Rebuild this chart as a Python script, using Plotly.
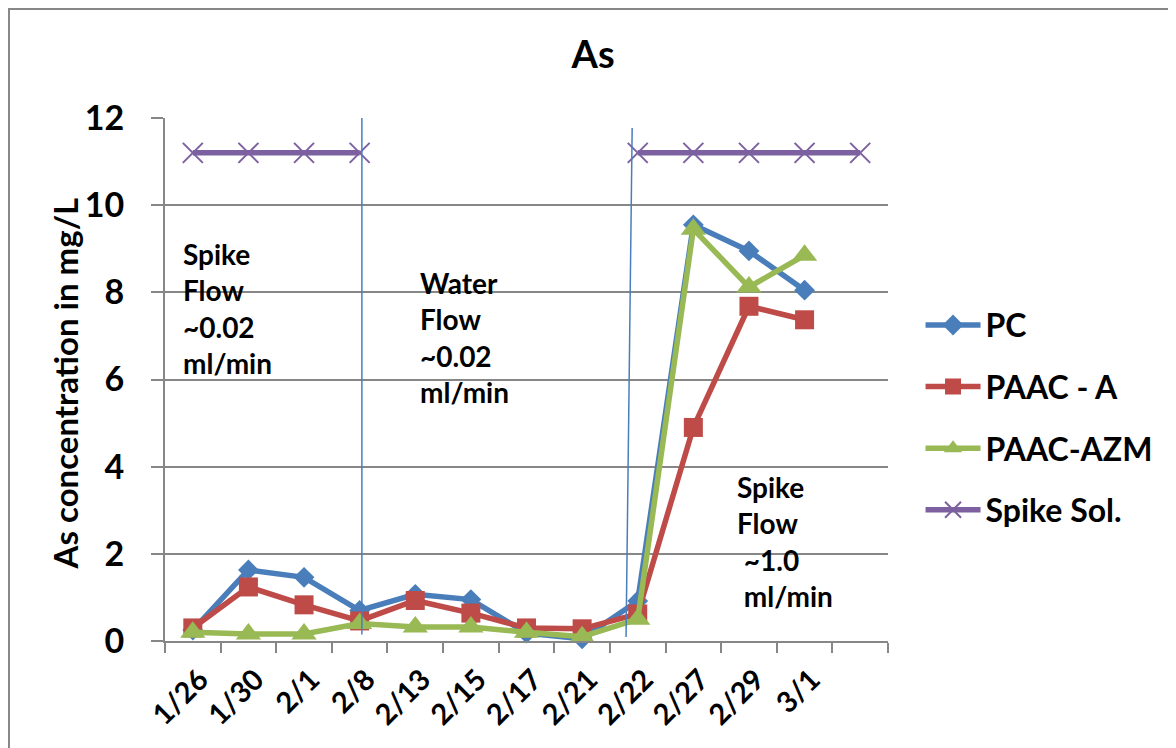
import plotly.graph_objects as go

categories = ["1/26", "1/30", "2/1", "2/8", "2/13", "2/15", "2/17", "2/21", "2/22", "2/27", "2/29", "3/1", " "]
tick_labels = ["1/26", "1/30", "2/1", "2/8", "2/13", "2/15", "2/17", "2/21", "2/22", "2/27", "2/29", "3/1", ""]

pc = [0.25, 1.63, 1.46, 0.7, 1.07, 0.95, 0.18, 0.05, 0.92, 9.55, 8.95, 8.05, None]
paac_a = [0.3, 1.24, 0.83, 0.46, 0.93, 0.64, 0.3, 0.28, 0.62, 4.9, 7.68, 7.37, None]
paac_azm = [0.2, 0.16, 0.16, 0.4, 0.32, 0.32, 0.2, 0.1, 0.5, 9.45, 8.12, 8.85, None]
spike_sol = [11.2, 11.2, 11.2, 11.2, None, None, None, None, 11.2, 11.2, 11.2, 11.2, 11.2]

FONT = "Lato"

fig = go.Figure()

series = [
    ("PC", pc, "#4A7EBB", "diamond", 16),
    ("PAAC - A", paac_a, "#BE4B48", "square", 19),
    ("PAAC-AZM", paac_azm, "#98B954", "triangle-up", 22),
]
for i, (name, vals, col, sym, sz) in enumerate(series):
    fig.add_trace(go.Scatter(
        x=categories, y=vals, name=name, mode="lines+markers",
        line=dict(color=col, width=5.5),
        marker=dict(symbol=sym, size=sz, color=col),
        cliponaxis=False, legendgroup=f"g{i}",
    ))

fig.add_trace(go.Scatter(
    x=categories, y=spike_sol, name="Spike Sol.", mode="lines+markers",
    line=dict(color="#7D60A0", width=5.5),
    marker=dict(symbol="x-thin-open", size=20, color="#7D60A0", line=dict(color="#7D60A0", width=2)),
    cliponaxis=False, connectgaps=False, legendgroup="g3",
))

# separator lines
fig.add_shape(type="line", xref="x", yref="y", x0=3.04, x1=3.04, y0=0.15, y1=12.1,
              line=dict(color="#4A7EBB", width=1.5))
fig.add_shape(type="line", xref="x", yref="y", x0=7.9, x1=7.79, y0=11.77, y1=0.09,
              line=dict(color="#4A7EBB", width=1.5))

# outer border (top and left visible)
fig.add_shape(type="rect", xref="paper", yref="paper", x0=-0.2158, x1=1.5, y0=-0.3, y1=1.2084,
              line=dict(color="#878787", width=2), fillcolor="rgba(0,0,0,0)", layer="below")

ann_font = dict(family=FONT, size=28, color="black", weight="bold")
fig.add_annotation(xref="paper", yref="paper", x=0.022, y=0.636, xanchor="left", yanchor="middle",
                   text="Spike<br>Flow<br>~0.02<br>ml/min", showarrow=False, align="left", font=ann_font)
fig.add_annotation(xref="paper", yref="paper", x=0.35, y=0.581, xanchor="left", yanchor="middle",
                   text="Water<br>Flow<br>~0.02<br>ml/min", showarrow=False, align="left", font=ann_font)
fig.add_annotation(xref="paper", yref="paper", x=0.788, y=0.19, xanchor="left", yanchor="middle",
                   text="Spike<br>Flow<br>\u00a0~1.0<br>\u00a0ml/min", showarrow=False, align="left", font=ann_font)

# y-axis title
fig.add_annotation(xref="paper", yref="paper", x=-0.138, y=0.493, xanchor="center", yanchor="middle",
                   text="As concentration in mg/L", textangle=-90, showarrow=False,
                   font=dict(family=FONT, size=33, color="black", weight="bold"))

fig.update_layout(
    width=1168, height=740,
    margin=dict(l=157, r=288, t=110, b=107),
    paper_bgcolor="white", plot_bgcolor="white",
    title=dict(text="As", x=0.501, xref="container", y=0.9365, yref="container",
               xanchor="center", yanchor="middle",
               font=dict(family=FONT, size=38, color="black", weight="bold")),
    showlegend=True,
    legend=dict(x=1.045, xanchor="left", y=0.427, yanchor="middle",
                font=dict(family=FONT, size=32, color="black", weight="bold"),
                tracegroupgap=17, itemwidth=55, bgcolor="rgba(0,0,0,0)"),
    xaxis=dict(type="category", categoryorder="array", categoryarray=categories,
               tickvals=categories, ticktext=tick_labels, range=[-0.5, 12.5],
               tickangle=-45, tickson="boundaries", ticks="outside", ticklen=10,
               tickcolor="#878787", tickwidth=2, showline=True, linecolor="#878787", linewidth=2,
               showgrid=False, zeroline=False, automargin=False,
               ticklabelshift=7, ticklabelstandoff=8,
               tickfont=dict(family=FONT, size=29, color="black", weight="bold")),
    yaxis=dict(range=[0, 12], tickvals=[0, 2, 4, 6, 8, 10, 12], ticks="outside", ticklen=12,
               tickcolor="#878787", tickwidth=2, showline=True, linecolor="#878787", linewidth=2,
               showgrid=True, gridcolor="#878787", gridwidth=2, zeroline=False, automargin=False,
               ticklabelstandoff=20,
               tickfont=dict(family=FONT, size=34, color="black", weight="bold")),
)

fig.write_html("out.html")
